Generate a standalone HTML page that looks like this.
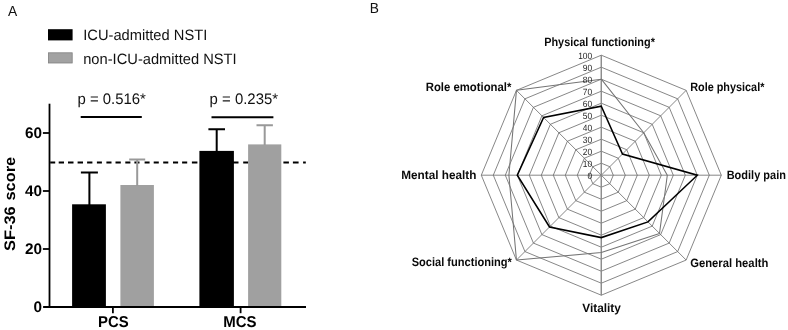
<!DOCTYPE html>
<html><head><meta charset="utf-8"><title>Figure</title>
<style>html,body{margin:0;padding:0;background:#fff}svg{display:block;will-change:transform;transform:translateZ(0)}text{font-family:"Liberation Sans",sans-serif;text-rendering:geometricPrecision}</style></head><body>
<svg width="788" height="330" viewBox="0 0 788 330">
<rect width="788" height="330" fill="#fff"/>
<text transform="translate(8.1 15.5) scale(0.945 1.0)" font-size="14.6" text-anchor="start" fill="#111">A</text>
<text transform="translate(369.7 12.5) scale(0.94 1.0)" font-size="14.6" text-anchor="start" fill="#111">B</text>
<rect x="48" y="29.2" width="24.6" height="11.2" fill="#000"/>
<rect x="48.4" y="52.8" width="23.8" height="10.2" fill="#a2a2a2" stroke="#808080" stroke-width="0.8"/>
<text transform="translate(83.2 40.2) scale(0.979 1.0)" font-size="15" text-anchor="start" fill="#111">ICU-admitted NSTI</text>
<text transform="translate(83.2 63.5) scale(0.979 1.0)" font-size="15" text-anchor="start" fill="#111">non-ICU-admitted NSTI</text>
<path d="M50.2 162.5H55.2M58.7 162.5H64.0M68.0 162.5H73.5M77.6 162.5H83.0M87.1 162.5H92.4M96.9 162.5H101.9M106.4 162.5H111.5M115.5 162.5H120.8M125.3 162.5H130.4M134.4 162.5H139.5M144.6 162.5H149.6M153.7 162.5H158.8M163.2 162.5H168.3M173.0 162.5H178.1M182.1 162.5H187.2M191.9 162.5H197.4M201.4 162.5H206.6M210.9 162.5H216.1M220.4 162.5H225.6M229.9 162.5H238.5M243.2 162.5H248.5M253 162.5H258.2M262.5 162.5H267.7M272 162.5H277.2M283.4 162.5H288.9M292.9 162.5H298.6M303.1 162.5H305.8" stroke="#000" stroke-width="2" fill="none"/>
<rect x="72.1" y="204.3" width="33.8" height="102.7" fill="#000"/>
<rect x="120.4" y="185" width="33.5" height="122.0" fill="#a0a0a0"/>
<rect x="199.4" y="150.9" width="34.5" height="156.1" fill="#000"/>
<rect x="248.1" y="144.4" width="33.2" height="162.6" fill="#a0a0a0"/>
<path d="M89.4 205V172.5M80.9 172.5H97.9" stroke="#000" stroke-width="2" fill="none"/>
<path d="M137.2 186V159.5M129.2 159.5H145.2" stroke="#999" stroke-width="2" fill="none"/>
<path d="M216.7 152V129.2M208.39999999999998 129.2H225.0" stroke="#000" stroke-width="2" fill="none"/>
<path d="M264.7 145V125.2M256.5 125.2H272.9" stroke="#999" stroke-width="2" fill="none"/>
<path d="M49.5 103.7V307.9" stroke="#000" stroke-width="1.8" fill="none"/>
<path d="M43.1 307.0H306" stroke="#000" stroke-width="1.8" fill="none"/>
<path d="M42.9 249.0H49.5" stroke="#000" stroke-width="1.8"/>
<path d="M42.9 191.0H49.5" stroke="#000" stroke-width="1.8"/>
<path d="M42.9 133.0H49.5" stroke="#000" stroke-width="1.8"/>
<path d="M112.9 307.0V313.2" stroke="#000" stroke-width="1.8"/>
<path d="M240.6 307.0V313.2" stroke="#000" stroke-width="1.8"/>
<text transform="translate(42.1 311.9)" font-size="15.3" font-weight="bold" text-anchor="end" fill="#000">0</text>
<text transform="translate(42.1 253.9)" font-size="15.3" font-weight="bold" text-anchor="end" fill="#000">20</text>
<text transform="translate(42.1 195.9)" font-size="15.3" font-weight="bold" text-anchor="end" fill="#000">40</text>
<text transform="translate(42.1 137.9)" font-size="15.3" font-weight="bold" text-anchor="end" fill="#000">60</text>
<text transform="translate(113.4 327.3) scale(0.95 1.0)" font-size="15.7" font-weight="bold" text-anchor="middle" fill="#000">PCS</text>
<text transform="translate(239.8 327.3) scale(0.955 1.0)" font-size="15.7" font-weight="bold" text-anchor="middle" fill="#000">MCS</text>
<text transform="translate(14.9 250.9) rotate(-90) scale(1.0 0.93)" font-size="16.4" font-weight="bold" text-anchor="start" fill="#000" word-spacing="1.2">SF-36 score</text>
<path d="M80.7 117.1H141.8" stroke="#000" stroke-width="2"/>
<path d="M211.5 117.3H273.4" stroke="#000" stroke-width="2"/>
<text transform="translate(77.5 104.3) scale(0.975 1.0)" font-size="15.3" text-anchor="start" fill="#111">p = 0.516*</text>
<text transform="translate(209.6 104.3) scale(0.975 1.0)" font-size="15.3" text-anchor="start" fill="#111">p = 0.235*</text>
<polygon points="601.30,163.20 609.79,166.71 613.30,175.20 609.79,183.69 601.30,187.20 592.81,183.69 589.30,175.20 592.81,166.71" fill="none" stroke="#686868" stroke-width="0.8"/>
<polygon points="601.30,151.20 618.27,158.23 625.30,175.20 618.27,192.17 601.30,199.20 584.33,192.17 577.30,175.20 584.33,158.23" fill="none" stroke="#686868" stroke-width="0.8"/>
<polygon points="601.30,139.20 626.76,149.74 637.30,175.20 626.76,200.66 601.30,211.20 575.84,200.66 565.30,175.20 575.84,149.74" fill="none" stroke="#686868" stroke-width="0.8"/>
<polygon points="601.30,127.20 635.24,141.26 649.30,175.20 635.24,209.14 601.30,223.20 567.36,209.14 553.30,175.20 567.36,141.26" fill="none" stroke="#686868" stroke-width="0.8"/>
<polygon points="601.30,115.20 643.73,132.77 661.30,175.20 643.73,217.63 601.30,235.20 558.87,217.63 541.30,175.20 558.87,132.77" fill="none" stroke="#686868" stroke-width="0.8"/>
<polygon points="601.30,103.20 652.21,124.29 673.30,175.20 652.21,226.11 601.30,247.20 550.39,226.11 529.30,175.20 550.39,124.29" fill="none" stroke="#686868" stroke-width="0.8"/>
<polygon points="601.30,91.20 660.70,115.80 685.30,175.20 660.70,234.60 601.30,259.20 541.90,234.60 517.30,175.20 541.90,115.80" fill="none" stroke="#686868" stroke-width="0.8"/>
<polygon points="601.30,79.20 669.18,107.32 697.30,175.20 669.18,243.08 601.30,271.20 533.42,243.08 505.30,175.20 533.42,107.32" fill="none" stroke="#686868" stroke-width="0.8"/>
<polygon points="601.30,67.20 677.67,98.83 709.30,175.20 677.67,251.57 601.30,283.20 524.93,251.57 493.30,175.20 524.93,98.83" fill="none" stroke="#686868" stroke-width="0.8"/>
<polygon points="601.30,55.20 686.15,90.35 721.30,175.20 686.15,260.05 601.30,295.20 516.45,260.05 481.30,175.20 516.45,90.35" fill="none" stroke="#686868" stroke-width="0.8"/>
<path d="M601.3 175.2L601.30 55.20" stroke="#686868" stroke-width="0.8"/>
<path d="M601.3 175.2L686.15 90.35" stroke="#686868" stroke-width="0.8"/>
<path d="M601.3 175.2L721.30 175.20" stroke="#686868" stroke-width="0.8"/>
<path d="M601.3 175.2L686.15 260.05" stroke="#686868" stroke-width="0.8"/>
<path d="M601.3 175.2L601.30 295.20" stroke="#686868" stroke-width="0.8"/>
<path d="M601.3 175.2L516.45 260.05" stroke="#686868" stroke-width="0.8"/>
<path d="M601.3 175.2L481.30 175.20" stroke="#686868" stroke-width="0.8"/>
<path d="M601.3 175.2L516.45 90.35" stroke="#686868" stroke-width="0.8"/>
<path d="M601.3 55.19999999999999V295.2" stroke="#8c8c8c" stroke-width="1.2"/>
<polygon points="601.30,79.20 643.73,132.77 667.30,175.20 659.51,233.41 601.30,252.60 516.45,260.05 508.90,175.20 516.45,90.35" fill="none" stroke="#747474" stroke-width="1.05" stroke-linejoin="round"/>
<polygon points="601.30,106.20 622.51,153.99 697.30,175.20 647.97,221.87 601.30,237.60 549.54,226.96 517.30,175.20 543.60,117.50" fill="none" stroke="#000" stroke-width="1.55" stroke-linejoin="miter"/>
<text transform="translate(592.1 178.6) scale(0.92 1.0)" font-size="9.1" text-anchor="end" fill="#262626">0</text>
<text transform="translate(592.1 166.6) scale(0.92 1.0)" font-size="9.1" text-anchor="end" fill="#262626">10</text>
<text transform="translate(592.1 154.6) scale(0.92 1.0)" font-size="9.1" text-anchor="end" fill="#262626">20</text>
<text transform="translate(592.1 142.6) scale(0.92 1.0)" font-size="9.1" text-anchor="end" fill="#262626">30</text>
<text transform="translate(592.1 130.6) scale(0.92 1.0)" font-size="9.1" text-anchor="end" fill="#262626">40</text>
<text transform="translate(592.1 118.6) scale(0.92 1.0)" font-size="9.1" text-anchor="end" fill="#262626">50</text>
<text transform="translate(592.1 106.6) scale(0.92 1.0)" font-size="9.1" text-anchor="end" fill="#262626">60</text>
<text transform="translate(592.1 94.6) scale(0.92 1.0)" font-size="9.1" text-anchor="end" fill="#262626">70</text>
<text transform="translate(592.1 82.6) scale(0.92 1.0)" font-size="9.1" text-anchor="end" fill="#262626">80</text>
<text transform="translate(592.1 70.6) scale(0.92 1.0)" font-size="9.1" text-anchor="end" fill="#262626">90</text>
<text transform="translate(592.1 58.6) scale(0.92 1.0)" font-size="9.1" text-anchor="end" fill="#262626">100</text>
<text x="544.20" y="45.80" font-size="12.1" font-weight="bold" fill="#0a0a0a" textLength="110.70" lengthAdjust="spacingAndGlyphs">Physical functioning*</text>
<text x="425.70" y="90.90" font-size="12.1" font-weight="bold" fill="#0a0a0a" textLength="85.71" lengthAdjust="spacingAndGlyphs">Role emotional*</text>
<text x="690.20" y="90.50" font-size="12.1" font-weight="bold" fill="#0a0a0a" textLength="74.21" lengthAdjust="spacingAndGlyphs">Role physical*</text>
<text x="726.70" y="178.50" font-size="12.1" font-weight="bold" fill="#0a0a0a" textLength="59.21" lengthAdjust="spacingAndGlyphs">Bodily pain</text>
<text x="690.20" y="266.75" font-size="12.1" font-weight="bold" fill="#0a0a0a" textLength="78.20" lengthAdjust="spacingAndGlyphs">General health</text>
<text x="582.20" y="311.50" font-size="12.1" font-weight="bold" fill="#0a0a0a" textLength="38.70" lengthAdjust="spacingAndGlyphs">Vitality</text>
<text x="411.70" y="266.40" font-size="12.1" font-weight="bold" fill="#0a0a0a" textLength="100.21" lengthAdjust="spacingAndGlyphs">Social functioning*</text>
<text x="401.20" y="178.90" font-size="12.1" font-weight="bold" fill="#0a0a0a" textLength="75.20" lengthAdjust="spacingAndGlyphs">Mental health</text>
</svg></body></html>
